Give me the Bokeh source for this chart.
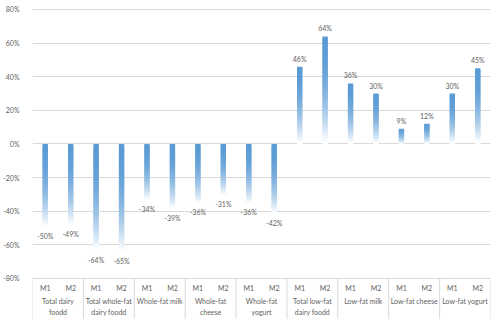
import numpy as np
from bokeh.plotting import figure
from bokeh.models import Range1d, FixedTicker, PrintfTickFormatter, ColumnDataSource
from bokeh.core.properties import value
from bokeh.embed import file_html
from bokeh.resources import INLINE

# ---- data ----
groups = ["Total dairy\nfoodd", "Total whole-fat\ndairy foodd", "Whole-fat milk",
          "Whole-fat\ncheese", "Whole-fat\nyogurt", "Total low-fat\ndairy foodd",
          "Low-fat milk", "Low-fat cheese", "Low-fat yogurt"]
subs = ["M1", "M2"]
m1 = [-50, -64, -34, -36, -36, 46, 36, 9, 30]
m2 = [-49, -65, -39, -31, -42, 64, 30, 12, 45]
y_ticks = [-80, -60, -40, -20, 0, 20, 40, 60, 80]

FONT = value("Lato")
GRAY = "#5F5F5F"
LINE = "#D9D9D9"

p = figure(width=500, height=321, output_backend="svg", toolbar_location=None,
           x_axis_location=None, min_border_left=28, min_border_right=10,
           min_border_top=0, min_border_bottom=0, outline_line_color=None,
           x_range=Range1d(0, 2 * len(groups)), y_range=Range1d(-105.6, 85.35))
p.background_fill_color = "white"
p.border_fill_color = "white"

yax = p.yaxis[0]
yax.ticker = FixedTicker(ticks=y_ticks)
yax.formatter = PrintfTickFormatter(format="%d%%")
yax.axis_line_color = None
yax.major_tick_line_color = None
yax.minor_tick_line_color = None
yax.major_label_text_font = "Lato"
yax.major_label_text_font_size = "7px"
yax.major_label_text_color = GRAY
yax.major_label_standoff = 7
p.ygrid.grid_line_color = LINE
p.xgrid.grid_line_color = None

# ---- bars with vertical gradient (solid top -> white bottom) ----
vals = []
xs = []
for i in range(len(groups)):
    for j, arr in enumerate([m1, m2]):
        vals.append(arr[i])
        xs.append(2 * i + j + 0.5)
vals = np.array(vals, dtype=float)
xs = np.array(xs)

N = 40
base = np.array([0x5B, 0x9B, 0xD5], dtype=float)
white = np.array([255, 255, 255], dtype=float)
bx, btop, bbot, bcol = [], [], [], []
for x, v in zip(xs, vals):
    top, bot = max(0.0, v), min(0.0, v)
    edges = np.linspace(top, bot, N + 1)
    step = (top - bot) / N
    for k in range(N):
        t = (k + 0.5) / N
        f = min(1.0, t ** 2.2 * 1.05)
        c = base * (1 - f) + white * f
        bx.append(x)
        btop.append(edges[k])
        # overlap into the next slice to hide anti-aliasing seams
        bbot.append(max(bot, edges[k + 1] - 0.8 * step) if k < N - 1 else edges[k + 1])
        bcol.append("#%02x%02x%02x" % tuple(int(round(q)) for q in c))
p.vbar(x=bx, top=btop, bottom=bbot, width=0.21, fill_color=bcol, line_color=None)

# ---- data labels ----
lab = ColumnDataSource(dict(x=xs, y=vals, t=["%d%%" % v for v in vals],
                            off=[-8 if v > 0 else 8 for v in vals]))
p.text(x="x", y="y", text="t", y_offset="off", source=lab, text_align="center",
       text_baseline="middle", text_font=FONT, text_font_size="7px", text_color=GRAY)

# ---- category axis (drawn in the lower band) ----
sep_x = [2 * i for i in range(len(groups) + 1)]
p.segment(x0=sep_x, x1=sep_x, y0=[-80] * len(sep_x), y1=[-104] * len(sep_x),
          line_color=LINE, line_width=1)
p.text(x=list(xs), y=[-85.4] * len(xs), text=subs * len(groups), text_align="center",
       text_baseline="middle", text_font=FONT, text_font_size="7px", text_color=GRAY)
p.text(x=[2 * i + 1 for i in range(len(groups))], y=[-91.0] * len(groups), text=groups,
       text_align="center", text_baseline="top", text_font=FONT, text_font_size="7px",
       text_color=GRAY, text_line_height=1.4)

open("out.html", "w").write(file_html(p, INLINE))
